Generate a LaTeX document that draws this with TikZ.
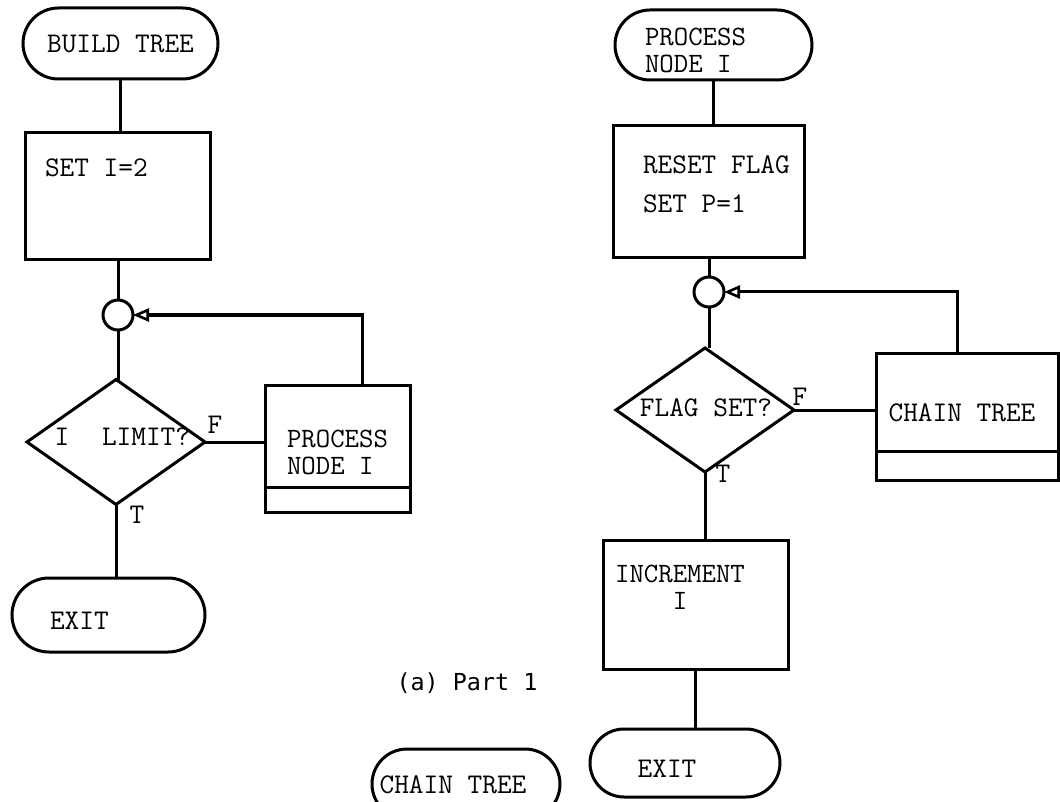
\documentclass[tikz,border=0pt]{standalone}
\usepackage{fontspec}
\newfontfamily\capfont{DejaVu Sans Mono}
\usetikzlibrary{shapes.geometric,shapes.misc,arrows.meta}
\begin{document}
\begin{tikzpicture}[x=1pt,y=-1pt,line width=3pt,
  every node/.style={font=\fontsize{28.5}{30}\selectfont\ttfamily,inner sep=0pt,outer sep=0pt},
  term/.style={draw,rounded rectangle,minimum width=#1},
  stepbox/.style={draw,rectangle},
  dia/.style={draw,diamond,aspect=1.4},
  junc/.style={draw,circle,minimum size=30pt},
  lbl/.style={anchor=west},
  twoline/.style={align=#1,font=\fontsize{28}{27}\selectfont\ttfamily},
  loopline/.style={-{Triangle[open,length=16pt,width=13pt,line width=2.6pt]}}]
\useasboundingbox (0,0) rectangle (1060,802);
\clip (0,0) rectangle (1060,802);
% ---------- left flowchart ----------
\node[term=195pt,minimum height=71pt] (t1) at (120.5,43.5) {BUILD TREE};
\node[stepbox,minimum width=185pt,minimum height=127pt] (b1) at (117.5,196.5) {};
\node[lbl] (b1t) at (45,168) {SET I=2};
\node[junc] (c1) at (118,315) {};
\node[dia,minimum width=178pt,minimum height=125pt] (d1) at (116,442) {};
\node (d1a) at (62,437) {I};
\node[lbl] (d1b) at (102,437) {LIMIT?};
\node (d1f) at (215,425) {F};
\node (d1t) at (137,515) {T};
\node[stepbox,minimum width=145pt,minimum height=127pt] (p1) at (337.5,448.5) {};
\node[lbl,twoline=left] (p1t) at (287,452.5) {PROCESS\\NODE I};
\node[term=193pt,minimum height=74pt] (e1) at (108.5,615) {};
\node[lbl] (e1t) at (50,621) {EXIT};
\draw ([yshift=25pt]p1.south west) -- ([yshift=25pt]p1.south east);
\draw (t1.south) -- (t1.south |- b1.north);
\draw (c1.north |- b1.south) -- (c1.north);
\draw (c1.south) -- (c1.south |- d1.north);
\draw (d1.east) -- (d1.east -| p1.west);
\draw (d1.south) -- (d1.south |- e1.north);
\draw[loopline] ([xshift=24.5pt]p1.north) |- (c1.east);
% ---------- right flowchart ----------
\node[term=197pt,minimum height=70pt] (t2) at (713.5,45) {};
\node[lbl,twoline=left] (t2t) at (645,50) {PROCESS\\NODE I};
\node[stepbox,minimum width=191pt,minimum height=132pt] (b2) at (708.5,192) {};
\node[lbl] (b2a) at (643,165) {RESET FLAG};
\node[lbl] (b2b) at (643,204) {SET P=1};
\node[junc] (c2) at (709,292) {};
\node[dia,minimum width=178pt,minimum height=124pt] (d2) at (705,410) {};
\node (d2t) at (706,408) {FLAG SET?};
\node (d2f) at (800,397) {F};
\node (d2tt) at (723,474) {T};
\node[stepbox,minimum width=182pt,minimum height=127pt] (ch) at (967,416.5) {};
\node (cht) at (962,413) {CHAIN TREE};
\draw ([yshift=29pt]ch.south west) -- ([yshift=29pt]ch.south east);
\node[stepbox,minimum width=185pt,minimum height=129pt] (inc) at (695.5,604.5) {};
\node[twoline=center] (inct) at (680,587) {INCREMENT\\I};
\node[term=190pt,minimum height=68pt] (e2) at (685,763) {};
\node (e2t) at (667,769) {EXIT};
\draw (t2.south) -- (t2.south |- b2.north);
\draw (c2.north |- b2.south) -- (c2.north);
\draw (c2.south) -- (c2.south |- d2.north);
\draw (d2.east) -- (d2.east -| ch.west);
\draw (d2.south) -- (d2.south |- inc.north);
\draw (inc.south) -- (inc.south |- e2.north);
\draw[loopline] ([xshift=-10pt]ch.north) |- (c2.east);
% ---------- caption and cut-off terminal ----------
\node[font=\capfont\fontsize{23.4}{26}\selectfont] (cap) at (467,683) {(a) Part 1};
\node[term=188pt,minimum height=70pt] (t3) at (466,784) {};
\node (t3t) at (453,785) {CHAIN TREE};
\end{tikzpicture}
\end{document}
